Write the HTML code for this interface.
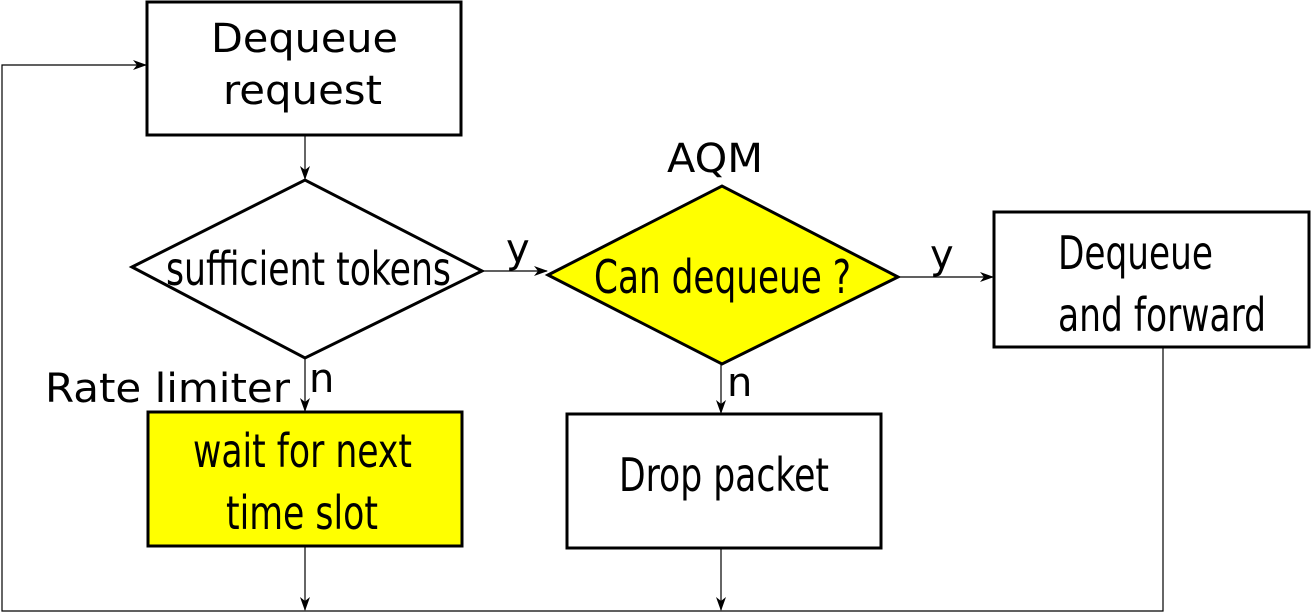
<!DOCTYPE html>
<html><head><style>html,body{margin:0;padding:0;background:#fff}svg{display:block}</style></head>
<body>
<svg width="1311" height="614" viewBox="0 0 1311 614" xmlns="http://www.w3.org/2000/svg">
<defs>
<marker id="a" markerWidth="14" markerHeight="10" refX="13" refY="5" orient="auto" markerUnits="userSpaceOnUse">
<path d="M0,0 L14,5 L0,10 L4,5 Z" fill="#000"/>
</marker>
</defs>
<g stroke="#000" stroke-width="1.2" fill="none">
<line x1="305" y1="135" x2="305" y2="179" marker-end="url(#a)"/>
<line x1="482" y1="271" x2="547" y2="271" marker-end="url(#a)"/>
<line x1="898" y1="277" x2="993" y2="277" marker-end="url(#a)"/>
<line x1="305" y1="358" x2="305" y2="411" marker-end="url(#a)"/>
<line x1="721" y1="364" x2="721" y2="413" marker-end="url(#a)"/>
<line x1="305" y1="546" x2="305" y2="610" marker-end="url(#a)"/>
<line x1="721" y1="548" x2="721" y2="610" marker-end="url(#a)"/>
<polyline points="1163,347 1163,611 2,611 2,65 146,65" marker-end="url(#a)"/>
</g>
<g stroke="#000" stroke-width="3">
<rect x="147" y="2" width="314" height="133" fill="#fff"/>
<polygon points="132,267 305,180 482,271 305,358" fill="#fff"/>
<polygon points="548,275 722,186 898,277 722,364" fill="#ffff00"/>
<rect x="994" y="212" width="315" height="135" fill="#fff"/>
<rect x="148" y="412" width="314" height="134" fill="#ffff00"/>
<rect x="567" y="414" width="314" height="134" fill="#fff"/>
</g>
<g font-family="DejaVu Sans, Liberation Sans, sans-serif" font-size="40" fill="#000">
<text x="211" y="52" textLength="187" lengthAdjust="spacingAndGlyphs">Dequeue</text>
<text x="223" y="104" textLength="159" lengthAdjust="spacingAndGlyphs">request</text>
<text x="667" y="172" textLength="96" lengthAdjust="spacingAndGlyphs">AQM</text>
<text x="45" y="402" textLength="245" lengthAdjust="spacingAndGlyphs">Rate limiter</text>
<text x="506" y="262">y</text>
<text x="930" y="268">y</text>
<text x="309" y="392">n</text>
<text x="727" y="396">n</text>
</g>
<g font-family="DejaVu Sans Condensed, DejaVu Sans, Liberation Sans, sans-serif" font-size="46" fill="#000">
<text x="166" y="285" textLength="285" lengthAdjust="spacingAndGlyphs">sufficient tokens</text>
<text x="594" y="293" textLength="257" lengthAdjust="spacingAndGlyphs">Can dequeue ?</text>
<text x="1058" y="269" textLength="155" lengthAdjust="spacingAndGlyphs">Dequeue</text>
<text x="1058" y="331" textLength="208" lengthAdjust="spacingAndGlyphs">and forward</text>
<text x="193" y="467" textLength="219" lengthAdjust="spacingAndGlyphs">wait for next</text>
<text x="226" y="529" textLength="152" lengthAdjust="spacingAndGlyphs">time slot</text>
<text x="619" y="491" textLength="210" lengthAdjust="spacingAndGlyphs">Drop packet</text>
</g>
</svg>
</body></html>
